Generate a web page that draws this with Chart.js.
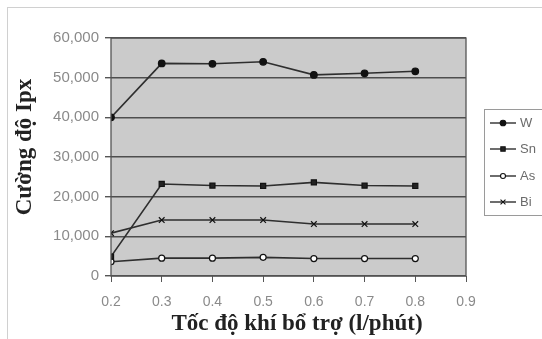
<!DOCTYPE html>
<html>
<head>
<meta charset="utf-8">
<script src="https://cdn.jsdelivr.net/npm/chart.js@4.4.1/dist/chart.umd.min.js"></script>
<style>
  html, body { margin: 0; padding: 0; background: #fff; }
  #wrap { width: 542px; height: 339px; }
</style>
</head>
<body>
<div id="wrap"><canvas id="chart" width="542" height="339"></canvas></div>
<script>
// donnees
const tocDo = [0.2, 0.3, 0.4, 0.5, 0.6, 0.7, 0.8];
const serieW  = [40000, 53600, 53500, 54000, 50700, 51100, 51600];
const serieSn = [4900, 23200, 22800, 22700, 23600, 22800, 22700];
const serieAs = [3600, 4500, 4500, 4700, 4400, 4400, 4400];
const serieBi = [10800, 14100, 14100, 14100, 13100, 13100, 13100];
const nomsSeries = ['W', 'Sn', 'As', 'Bi'];
const titreX = 'Tốc độ khí bổ trợ (l/phút)';
const titreY = 'Cường độ Ipx';

const couleurLigne = '#2e2e2e';
const policeTitre = 'bold 23px "Liberation Serif", "Times New Roman", serif';

// styles des marqueurs
const marqueurs = [
  { pointStyle: 'circle', radius: 3.3, bg: '#111' },
  { pointStyle: 'rect', radius: 3.6, bg: '#222' },
  { pointStyle: 'circle', radius: 3, bg: '#fff' },
  { pointStyle: 'crossRot', radius: 4, bg: '#222' }
];

function points(valeurs){
  return tocDo.map((x, i) => ({ x: x, y: valeurs[i] }));
}

const toutesSeries = [serieW, serieSn, serieAs, serieBi];
const datasets = toutesSeries.map((vals, i) => ({
  label: nomsSeries[i],
  data: points(vals),
  borderColor: couleurLigne,
  borderWidth: 1.6,
  pointStyle: marqueurs[i].pointStyle,
  pointRadius: marqueurs[i].radius,
  pointBackgroundColor: marqueurs[i].bg,
  pointBorderColor: '#111',
  pointBorderWidth: 1.2,
  tension: 0,
  fill: false
}));

// fond gris de la zone de tracé + cadre + titres des axes
const fondPlugin = {
  id: 'fond',
  beforeDraw(chart){
    const c = chart.ctx;
    c.save();
    c.fillStyle = '#fff';
    c.fillRect(0, 0, chart.width, chart.height);
    c.strokeStyle = '#d0d0d0';
    c.lineWidth = 1;
    c.strokeRect(7.5, 7.5, 600, 400);
    const a = chart.chartArea;
    c.fillStyle = '#cbcbcb';
    c.fillRect(a.left, a.top, a.right - a.left, a.bottom - a.top);
    c.restore();
  },
  afterDatasetsDraw(chart){
    const c = chart.ctx;
    const a = chart.chartArea;
    c.save();
    c.strokeStyle = '#555';
    c.lineWidth = 1.3;
    c.strokeRect(a.left, a.top, a.right - a.left, a.bottom - a.top);
    // titres
    c.fillStyle = '#222';
    c.font = policeTitre;
    c.textAlign = 'center';
    c.textBaseline = 'middle';
    c.fillText(titreX, 297, 324);
    c.translate(25, 147);
    c.rotate(-Math.PI / 2);
    c.fillText(titreY, 0, 0);
    c.restore();
  }
};

// legende dessinee a la main (trait + marqueur)
const legendePlugin = {
  id: 'legende',
  afterDraw(chart){
    const c = chart.ctx;
    c.save();
    c.strokeStyle = '#9a9a9a';
    c.lineWidth = 1;
    c.strokeRect(484.5, 109.5, 90, 106);
    const ys = [123, 149, 176, 202];
    nomsSeries.forEach((nom, i) => {
      const y = ys[i];
      c.strokeStyle = couleurLigne;
      c.lineWidth = 1.4;
      c.beginPath();
      c.moveTo(490, y);
      c.lineTo(516, y);
      c.stroke();
      c.fillStyle = marqueurs[i].bg;
      c.strokeStyle = '#111';
      c.lineWidth = 1.1;
      Chart.helpers.drawPoint(c, {
        pointStyle: marqueurs[i].pointStyle,
        radius: marqueurs[i].radius - 0.5,
        rotation: 0,
        borderWidth: 1.1
      }, 503, y);
      c.fillStyle = '#6a6a6a';
      c.font = '13px "Liberation Sans", Arial, sans-serif';
      c.textBaseline = 'middle';
      c.fillText(nom, 520, y);
    });
    c.restore();
  }
};

const ctx = document.getElementById('chart').getContext('2d');
const graphique = new Chart(ctx, {
  type: 'line',
  data: { datasets: datasets },
  options: {
    responsive: false,
    animation: false,
    layout: { padding: { left: 8, top: 38, right: 76, bottom: 0 } },
    plugins: {
      legend: { display: false },
      tooltip: { enabled: false }
    },
    scales: {
      x: {
        type: 'linear',
        min: 0.2,
        max: 0.9,
        ticks: {
          stepSize: 0.1,
          color: '#8a8a8a',
          font: { family: '"Liberation Sans", Arial, sans-serif', size: 14 },
          padding: 12,
          maxRotation: 0,
          callback: v => v.toFixed(1)
        },
        grid: { drawOnChartArea: false, drawTicks: true, tickLength: 6, color: '#555' },
        border: { display: false },
        afterFit: s => { s.height = 63; }
      },
      y: {
        min: 0,
        max: 60000,
        ticks: {
          stepSize: 10000,
          color: '#8a8a8a',
          font: { family: '"Liberation Sans", Arial, sans-serif', size: 15 },
          padding: 6,
          callback: v => v.toLocaleString('en-US')
        },
        grid: { color: '#4e4e4e', lineWidth: 1.4, tickLength: 6, tickColor: '#555' },
        border: { display: false },
        afterFit: s => { s.width = 103; }
      }
    }
  },
  plugins: [fondPlugin, legendePlugin]
});
</script>
</body>
</html>
